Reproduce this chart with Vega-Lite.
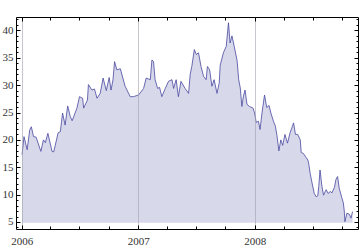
{
  "$schema": "https://vega.github.io/schema/vega-lite/v6.json",
  "autosize": {"type": "none"},
  "padding": {"left": 16, "top": 17, "right": 2, "bottom": 19},
  "width": 342,
  "height": 212,
  "background": "white",
  "config": {"view": {"stroke": "black", "strokeWidth": 1}},
  "data": {"values": [
    {"date": "2006-01-02", "price": 17.3},
    {"date": "2006-01-08", "price": 20.6},
    {"date": "2006-01-18", "price": 18.2},
    {"date": "2006-01-26", "price": 21.8},
    {"date": "2006-01-31", "price": 22.4},
    {"date": "2006-02-07", "price": 20.6},
    {"date": "2006-02-15", "price": 20.5},
    {"date": "2006-03-02", "price": 17.9},
    {"date": "2006-03-10", "price": 20.0},
    {"date": "2006-03-16", "price": 19.5},
    {"date": "2006-03-24", "price": 21.2},
    {"date": "2006-04-06", "price": 17.9},
    {"date": "2006-04-11", "price": 17.8},
    {"date": "2006-04-16", "price": 19.0},
    {"date": "2006-04-25", "price": 21.3},
    {"date": "2006-05-02", "price": 21.5},
    {"date": "2006-05-09", "price": 24.9},
    {"date": "2006-05-17", "price": 22.7},
    {"date": "2006-05-25", "price": 26.2},
    {"date": "2006-06-02", "price": 24.3},
    {"date": "2006-06-08", "price": 23.5},
    {"date": "2006-06-23", "price": 25.8},
    {"date": "2006-07-01", "price": 27.9},
    {"date": "2006-07-11", "price": 27.6},
    {"date": "2006-07-14", "price": 25.8},
    {"date": "2006-07-26", "price": 27.3},
    {"date": "2006-07-29", "price": 30.1},
    {"date": "2006-08-09", "price": 29.1},
    {"date": "2006-08-17", "price": 29.3},
    {"date": "2006-08-25", "price": 27.6},
    {"date": "2006-09-04", "price": 28.5},
    {"date": "2006-09-13", "price": 31.3},
    {"date": "2006-09-23", "price": 29.0},
    {"date": "2006-10-02", "price": 31.4},
    {"date": "2006-10-08", "price": 29.1},
    {"date": "2006-10-14", "price": 31.0},
    {"date": "2006-10-19", "price": 34.3},
    {"date": "2006-10-26", "price": 32.8},
    {"date": "2006-11-06", "price": 33.0},
    {"date": "2006-11-21", "price": 29.8},
    {"date": "2006-12-07", "price": 27.9},
    {"date": "2006-12-17", "price": 27.9},
    {"date": "2007-01-02", "price": 28.2},
    {"date": "2007-01-18", "price": 29.4},
    {"date": "2007-01-26", "price": 31.3},
    {"date": "2007-02-08", "price": 31.0},
    {"date": "2007-02-13", "price": 34.6},
    {"date": "2007-02-18", "price": 34.3},
    {"date": "2007-02-23", "price": 31.0},
    {"date": "2007-03-03", "price": 29.4},
    {"date": "2007-03-09", "price": 29.6},
    {"date": "2007-03-16", "price": 27.9},
    {"date": "2007-03-27", "price": 29.4},
    {"date": "2007-04-06", "price": 30.7},
    {"date": "2007-04-17", "price": 31.0},
    {"date": "2007-04-22", "price": 29.4},
    {"date": "2007-04-30", "price": 31.0},
    {"date": "2007-05-07", "price": 27.9},
    {"date": "2007-05-15", "price": 30.7},
    {"date": "2007-05-28", "price": 29.4},
    {"date": "2007-06-08", "price": 28.5},
    {"date": "2007-06-13", "price": 32.0},
    {"date": "2007-06-18", "price": 33.4},
    {"date": "2007-06-26", "price": 36.5},
    {"date": "2007-07-02", "price": 35.6},
    {"date": "2007-07-09", "price": 35.9},
    {"date": "2007-07-17", "price": 33.4},
    {"date": "2007-07-25", "price": 31.6},
    {"date": "2007-08-02", "price": 31.0},
    {"date": "2007-08-06", "price": 33.4},
    {"date": "2007-08-13", "price": 32.8},
    {"date": "2007-08-20", "price": 29.8},
    {"date": "2007-08-27", "price": 31.0},
    {"date": "2007-09-05", "price": 28.5},
    {"date": "2007-09-12", "price": 30.4},
    {"date": "2007-09-15", "price": 33.6},
    {"date": "2007-09-25", "price": 35.9},
    {"date": "2007-10-04", "price": 37.1},
    {"date": "2007-10-11", "price": 41.4},
    {"date": "2007-10-16", "price": 37.7},
    {"date": "2007-10-22", "price": 39.0},
    {"date": "2007-10-29", "price": 37.1},
    {"date": "2007-11-07", "price": 34.5},
    {"date": "2007-11-12", "price": 31.0},
    {"date": "2007-11-17", "price": 29.5},
    {"date": "2007-11-22", "price": 26.1},
    {"date": "2007-11-27", "price": 28.0},
    {"date": "2007-12-02", "price": 29.1},
    {"date": "2007-12-08", "price": 26.5},
    {"date": "2007-12-16", "price": 26.1},
    {"date": "2007-12-27", "price": 25.8},
    {"date": "2008-01-01", "price": 24.9},
    {"date": "2008-01-06", "price": 23.2},
    {"date": "2008-01-13", "price": 23.4},
    {"date": "2008-01-18", "price": 21.9},
    {"date": "2008-01-24", "price": 24.9},
    {"date": "2008-02-01", "price": 28.2},
    {"date": "2008-02-08", "price": 25.9},
    {"date": "2008-02-15", "price": 26.3},
    {"date": "2008-02-21", "price": 24.9},
    {"date": "2008-02-29", "price": 23.4},
    {"date": "2008-03-06", "price": 22.5},
    {"date": "2008-03-11", "price": 20.8},
    {"date": "2008-03-17", "price": 18.0},
    {"date": "2008-03-23", "price": 20.0},
    {"date": "2008-03-29", "price": 19.0},
    {"date": "2008-04-05", "price": 21.0},
    {"date": "2008-04-13", "price": 19.4},
    {"date": "2008-04-21", "price": 21.3},
    {"date": "2008-04-28", "price": 22.4},
    {"date": "2008-05-02", "price": 23.1},
    {"date": "2008-05-08", "price": 21.0},
    {"date": "2008-05-15", "price": 21.0},
    {"date": "2008-05-23", "price": 20.0},
    {"date": "2008-05-26", "price": 17.7},
    {"date": "2008-06-02", "price": 17.5},
    {"date": "2008-06-09", "price": 16.9},
    {"date": "2008-06-16", "price": 16.3},
    {"date": "2008-06-19", "price": 15.5},
    {"date": "2008-06-23", "price": 13.9},
    {"date": "2008-06-28", "price": 12.4},
    {"date": "2008-07-06", "price": 10.2},
    {"date": "2008-07-12", "price": 9.6},
    {"date": "2008-07-17", "price": 9.8},
    {"date": "2008-07-20", "price": 11.5},
    {"date": "2008-07-24", "price": 14.5},
    {"date": "2008-07-30", "price": 11.5},
    {"date": "2008-08-04", "price": 9.9},
    {"date": "2008-08-12", "price": 10.9},
    {"date": "2008-08-19", "price": 10.2},
    {"date": "2008-08-25", "price": 10.6},
    {"date": "2008-08-30", "price": 10.3},
    {"date": "2008-09-07", "price": 11.3},
    {"date": "2008-09-12", "price": 12.8},
    {"date": "2008-09-17", "price": 13.3},
    {"date": "2008-09-22", "price": 11.2},
    {"date": "2008-09-30", "price": 9.5},
    {"date": "2008-10-05", "price": 8.5},
    {"date": "2008-10-08", "price": 7.0},
    {"date": "2008-10-10", "price": 5.05},
    {"date": "2008-10-16", "price": 6.6},
    {"date": "2008-10-24", "price": 6.4},
    {"date": "2008-10-29", "price": 5.7},
    {"date": "2008-11-03", "price": 6.9}
  ]},
  "resolve": {"axis": {"x": "independent", "y": "independent"}},
  "layer": [
    {
      "mark": {"type": "area", "color": "#d8d8eb", "opacity": 1},
      "encoding": {
        "x": {"field": "date", "type": "temporal",
          "scale": {"domain": ["2005-12-14", "2008-11-20"], "nice": false},
          "axis": {"orient": "bottom", "title": null, "domain": false, "zindex": 1,
            "offset": -3,
            "tickCount": {"interval": "month", "step": 3},
            "labelExpr": "month(datum.value) == 0 ? timeFormat(datum.value, '%Y') : ''",
            "labelOverlap": false, "labelFlush": false,
            "labelFont": "Liberation Serif", "labelFontSize": 11, "labelColor": "#333333",
            "labelPadding": 6,
            "grid": true, "gridColor": "#a0a0aa", "gridWidth": 1,
            "gridOpacity": {"condition": {"test": "month(datum.value) == 0", "value": 0.6}, "value": 0},
            "ticks": true, "tickColor": "black", "tickWidth": 1, "tickSize": 3}},
        "y": {"field": "price", "type": "quantitative",
          "scale": {"domain": [3.72, 42.45], "nice": false, "zero": false},
          "axis": {"orient": "left", "title": null, "domain": false, "grid": false, "zindex": 1,
            "offset": -2,
            "values": [4,5,6,7,8,9,10,11,12,13,14,15,16,17,18,19,20,21,22,23,24,25,26,27,28,29,30,31,32,33,34,35,36,37,38,39,40,41,42],
            "labelExpr": "datum.value % 5 == 0 ? datum.label : ''",
            "labelOverlap": false, "labelFlush": false,
            "labelFont": "Liberation Serif", "labelFontSize": 11, "labelColor": "#333333",
            "labelPadding": 3,
            "ticks": true, "tickColor": "black", "tickWidth": 1, "tickSize": 2}},
        "y2": {"datum": 4.87}
      }
    },
    {
      "mark": {"type": "line", "color": "#4848a0", "strokeWidth": 0.8},
      "encoding": {
        "x": {"field": "date", "type": "temporal",
          "axis": {"orient": "top", "title": null, "domain": false, "labels": false, "grid": false, "zindex": 1,
            "offset": -3,
            "tickCount": {"interval": "month", "step": 3},
            "ticks": true, "tickColor": "black", "tickWidth": 1, "tickSize": 3}},
        "y": {"field": "price", "type": "quantitative",
          "axis": {"orient": "right", "title": null, "domain": false, "labels": false, "grid": false, "zindex": 1,
            "offset": -2,
            "values": [4,5,6,7,8,9,10,11,12,13,14,15,16,17,18,19,20,21,22,23,24,25,26,27,28,29,30,31,32,33,34,35,36,37,38,39,40,41,42],
            "ticks": true, "tickColor": "black", "tickWidth": 1, "tickSize": 2}}
      }
    },
    {
      "mark": {"type": "point", "opacity": 0},
      "encoding": {
        "x": {"field": "date", "type": "temporal",
          "axis": {"orient": "bottom", "title": null, "domain": false, "labels": false, "grid": false, "zindex": 1,
            "offset": -4,
            "tickCount": {"interval": "year", "step": 1},
            "ticks": true, "tickColor": "black", "tickWidth": 1, "tickSize": 4}},
        "y": {"field": "price", "type": "quantitative",
          "axis": {"orient": "left", "title": null, "domain": false, "labels": false, "grid": false, "zindex": 1,
            "offset": -4,
            "values": [5,10,15,20,25,30,35,40],
            "ticks": true, "tickColor": "black", "tickWidth": 1, "tickSize": 4}}
      }
    },
    {
      "mark": {"type": "point", "opacity": 0},
      "encoding": {
        "x": {"field": "date", "type": "temporal",
          "axis": {"orient": "top", "title": null, "domain": false, "labels": false, "grid": false, "zindex": 1,
            "offset": -4,
            "tickCount": {"interval": "year", "step": 1},
            "ticks": true, "tickColor": "black", "tickWidth": 1, "tickSize": 4}},
        "y": {"field": "price", "type": "quantitative",
          "axis": {"orient": "right", "title": null, "domain": false, "labels": false, "grid": false, "zindex": 1,
            "offset": -4,
            "values": [5,10,15,20,25,30,35,40],
            "ticks": true, "tickColor": "black", "tickWidth": 1, "tickSize": 4}}
      }
    }
  ]
}
